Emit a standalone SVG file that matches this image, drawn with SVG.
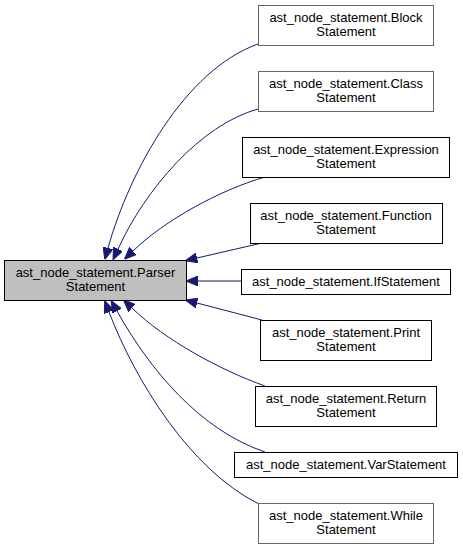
<svg xmlns="http://www.w3.org/2000/svg" width="463" height="548" viewBox="0 0 463 548">
<style>
  text { font-family: "Liberation Sans", Arial, sans-serif; font-size: 13px; fill: #000; text-anchor: middle; }
  .box { fill: #ffffff; stroke: #000000; stroke-width: 1; }
  .grey { stroke: #666666; }
  .main { fill: #bfbfbf; stroke: #000000; stroke-width: 1; }
  .edge { fill: none; stroke: #191970; stroke-width: 1; marker-end: url(#arr); }
</style>
<defs>
  <marker id="arr" viewBox="0 0 12 10" refX="0" refY="5" markerWidth="12" markerHeight="10" markerUnits="userSpaceOnUse" orient="auto">
    <path d="M0,0 L12,5 L0,10 z" fill="#191970" stroke="#191970" stroke-width="1"/>
  </marker>
</defs>
<rect width="463" height="548" fill="#ffffff"/>
<g id="connectors">
  <path class="edge" d="M258,44 C185,70 130,170 108,248"/>
  <path class="edge" d="M258,109 C200,125 145,190 118,249"/>
  <path class="edge" d="M265,177 C220,190 165,220 133,251"/>
  <path class="edge" d="M262,243 L197,258"/>
  <path class="edge" d="M241,281 L198,281"/>
  <path class="edge" d="M262,320 L197,303"/>
  <path class="edge" d="M265,386 C220,370 165,340 132,308"/>
  <path class="edge" d="M265,452 C200,430 150,370 117,311"/>
  <path class="edge" d="M259,504 C190,470 135,380 109,312"/>
</g>
<g id="parser">
  <rect class="main" x="4.5" y="260.5" width="182" height="40"/>
  <text x="95.5" y="277">ast_node_statement.Parser</text>
  <text x="95.5" y="291">Statement</text>
</g>
<g id="block">
  <rect class="box grey" x="258.5" y="5.5" width="175" height="40"/>
  <text x="346" y="22">ast_node_statement.Block</text>
  <text x="346" y="36">Statement</text>
</g>
<g id="class">
  <rect class="box grey" x="258.5" y="71.5" width="175" height="40"/>
  <text x="346" y="88">ast_node_statement.Class</text>
  <text x="346" y="102">Statement</text>
</g>
<g id="expression">
  <rect class="box" x="242.5" y="137.5" width="207" height="40"/>
  <text x="346" y="154">ast_node_statement.Expression</text>
  <text x="346" y="168">Statement</text>
</g>
<g id="function">
  <rect class="box" x="250.5" y="203.5" width="192" height="40"/>
  <text x="346" y="220">ast_node_statement.Function</text>
  <text x="346" y="234">Statement</text>
</g>
<g id="ifstatement">
  <rect class="box" x="241.5" y="269.5" width="209" height="25"/>
  <text x="346" y="286">ast_node_statement.IfStatement</text>
</g>
<g id="print">
  <rect class="box" x="260.5" y="320.5" width="171" height="40"/>
  <text x="346" y="337">ast_node_statement.Print</text>
  <text x="346" y="351">Statement</text>
</g>
<g id="return">
  <rect class="box" x="255.5" y="386.5" width="181" height="40"/>
  <text x="346" y="403">ast_node_statement.Return</text>
  <text x="346" y="417">Statement</text>
</g>
<g id="varstatement">
  <rect class="box" x="234.5" y="452.5" width="223" height="25"/>
  <text x="346" y="469">ast_node_statement.VarStatement</text>
</g>
<g id="while">
  <rect class="box grey" x="258.5" y="503.5" width="175" height="40"/>
  <text x="346" y="520">ast_node_statement.While</text>
  <text x="346" y="534">Statement</text>
</g>
</svg>
